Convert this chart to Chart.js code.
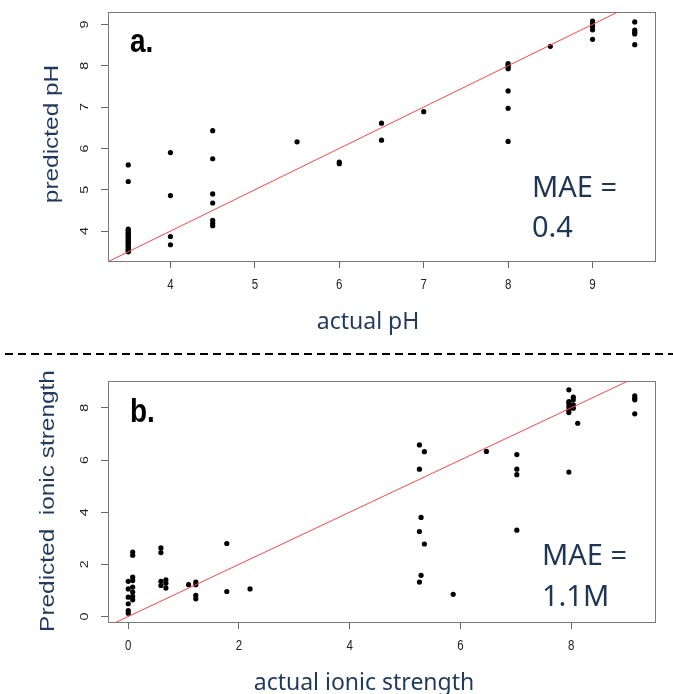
<!DOCTYPE html>
<html lang="en">
<head>
<meta charset="UTF-8">
<title>Predicted vs actual pH and ionic strength</title>
<script src="https://cdn.jsdelivr.net/npm/chart.js@4.4.1/dist/chart.umd.min.js"></script>
<style>
  body { margin: 0; background: #fff; width: 673px; height: 694px; position: relative; overflow: hidden; }
  canvas { position: absolute; left: 0; }
  .t { position: absolute; white-space: nowrap; margin: 0; }
  .ytitle { font: 20px "Liberation Sans", Arial, sans-serif; line-height: 20px; color: #1f3a5c; transform: translate(-50%, -50%) rotate(-90deg) scaleX(1.22); }
  .xtitle { font: 23px "Noto Sans", sans-serif; line-height: 23px; color: #1f3a5c; transform: translateX(-50%); }
  .mae { font: 29px "Noto Sans", sans-serif; line-height: 29px; color: #1e3654; }
  .tag { font: bold 28px "Liberation Sans", Arial, sans-serif; line-height: 28px; color: #000; transform-origin: 0 23.7px; transform: scaleY(1.2); }
  .dash { position: absolute; left: 0; top: 353px; width: 673px; height: 2px;
          background: repeating-linear-gradient(to right, transparent 0 5px, #000 5px 13px); }
</style>
</head>
<body>
<canvas id="chartA" width="673" height="355" style="top:0"></canvas>
<canvas id="chartB" width="673" height="339" style="top:355px"></canvas>
<div class="dash"></div>

<div class="t ytitle" style="left:51px; top:134px">predicted pH</div>
<div class="t xtitle" style="left:368px; top:309px">actual pH</div>
<div class="t tag" style="left:130px; top:29px">a.</div>
<div class="t mae" style="left:532px; top:171px">MAE =</div>
<div class="t mae" style="left:532px; top:211px">0.4</div>

<div class="t ytitle" style="left:47px; top:501px">Predicted&nbsp; ionic strength</div>
<div class="t xtitle" style="left:364px; top:670px">actual ionic strength</div>
<div class="t tag" style="left:130px; top:399px">b.</div>
<div class="t mae" style="left:542px; top:539px">MAE =</div>
<div class="t mae" style="left:542px; top:580px">1.1M</div>

<script>
// panel a: actual pH groups and the predicted values at each
const phActual = [3.5, 4, 4.5, 5.5, 6, 6.5, 7, 8, 8.5, 9, 9.5];
const phPredicted = [
  [5.60, 5.20, 4.05, 4.02, 3.98, 3.95, 3.92, 3.88, 3.85, 3.82, 3.78, 3.75, 3.72, 3.68, 3.65, 3.62, 3.58, 3.55, 3.52, 3.50],
  [5.90, 4.86, 3.87, 3.67],
  [6.43, 5.75, 4.90, 4.68, 4.26, 4.19, 4.13],
  [6.16],
  [5.67, 5.63],
  [6.61, 6.20],
  [6.89],
  [8.05, 8.01, 7.97, 7.93, 7.39, 6.97, 6.17],
  [8.47],
  [9.08, 9.02, 8.95, 8.87, 8.64],
  [9.06, 8.86, 8.81, 8.77, 8.51]
];
const phTicks = [4, 5, 6, 7, 8, 9];

// panel b: actual ionic strength groups and predicted values
const ionicActual = [0, 0.08, 0.59, 0.68, 1.09, 1.22, 1.78, 2.2, 5.26, 5.29, 5.35, 5.87, 6.47, 7.02, 7.96, 8.04, 8.12, 9.15];
const ionicPredicted = [
  [0.13, 0.23, 0.49, 0.74, 1.06, 1.35],
  [2.47, 2.35, 1.51, 1.38, 1.13, 0.94, 0.77, 0.64],
  [2.63, 2.45, 1.35, 1.19],
  [1.41, 1.28, 1.09],
  [1.22],
  [1.32, 1.22, 0.81, 0.68],
  [2.80, 0.96],
  [1.06],
  [6.58, 5.65, 3.26, 1.32],
  [3.80, 1.58],
  [6.32, 2.78],
  [0.85],
  [6.33],
  [6.21, 5.65, 5.44, 3.31],
  [8.69, 8.24, 8.18, 8.05, 7.92, 7.82, 5.54],
  [8.41, 8.31, 8.12, 7.99],
  [7.41],
  [8.46, 8.37, 8.31, 7.77]
];
const ionicTicks = [0, 2, 4, 6, 8];

function toPoints(xs, ys) {
  let pts = [];
  xs.forEach((x, i) => ys[i].forEach(y => pts.push({ x: x, y: y })));
  return pts;
}

// box around the plot + rotated/stretched tick labels like the R output
const rAxesPlugin = {
  id: 'rAxes',
  afterDraw(chart) {
    const ctx = chart.ctx;
    const a = chart.chartArea;
    ctx.save();
    ctx.strokeStyle = '#7a7a7a';
    ctx.lineWidth = 1;
    ctx.strokeRect(Math.round(a.left) + 0.5, Math.round(a.top) + 0.5, Math.round(a.right - a.left), Math.round(a.bottom - a.top));

    ctx.fillStyle = '#222';
    ctx.font = '11.5px "Liberation Sans", Arial, sans-serif';
    ctx.textAlign = 'center';
    ctx.textBaseline = 'middle';
    const xs = chart.scales.x, ys = chart.scales.y;
    xs.ticks.forEach(t => {
      ctx.save();
      ctx.translate(xs.getPixelForValue(t.value), a.bottom + 24);
      ctx.scale(1, 1.25);
      ctx.fillText(String(t.value), 0, 0);
      ctx.restore();
    });
    ys.ticks.forEach(t => {
      ctx.save();
      ctx.translate(a.left - 23, ys.getPixelForValue(t.value));
      ctx.rotate(-Math.PI / 2);
      ctx.scale(1.25, 1);
      ctx.fillText(String(t.value), 0, 0);
      ctx.restore();
    });
    ctx.restore();
  }
};

function makeChart(id, pts, xRange, yRange, ticks, padding) {
  const axis = (range) => ({
    type: 'linear',
    min: range[0],
    max: range[1],
    afterBuildTicks: s => { s.ticks = ticks.map(v => ({ value: v })); },
    grid: { drawOnChartArea: false, tickLength: 7, color: '#666' },
    border: { color: '#7a7a7a' },
    ticks: { display: false }
  });
  return new Chart(document.getElementById(id), {
    type: 'scatter',
    data: {
      datasets: [
        {
          type: 'line',
          data: [{ x: -5, y: -5 }, { x: 15, y: 15 }],
          borderColor: '#ff4444',
          borderWidth: 1,
          pointRadius: 0
        },
        {
          data: pts,
          pointRadius: 2.6,
          pointBackgroundColor: '#000',
          pointBorderWidth: 0
        }
      ]
    },
    options: {
      responsive: false,
      animation: false,
      devicePixelRatio: 1,
      layout: { padding: padding },
      plugins: { legend: { display: false }, tooltip: { enabled: false } },
      scales: { x: axis(xRange), y: axis(yRange) }
    },
    plugins: [rAxesPlugin]
  });
}

makeChart('chartA', toPoints(phActual, phPredicted), [3.26, 9.74], [3.277, 9.30], phTicks,
  { left: 101, top: 12, right: 18, bottom: 87 });
makeChart('chartB', toPoints(ionicActual, ionicPredicted), [-0.366, 9.516], [-0.21, 9.03], ionicTicks,
  { left: 101, top: 26, right: 18, bottom: 65 });
</script>
</body>
</html>
